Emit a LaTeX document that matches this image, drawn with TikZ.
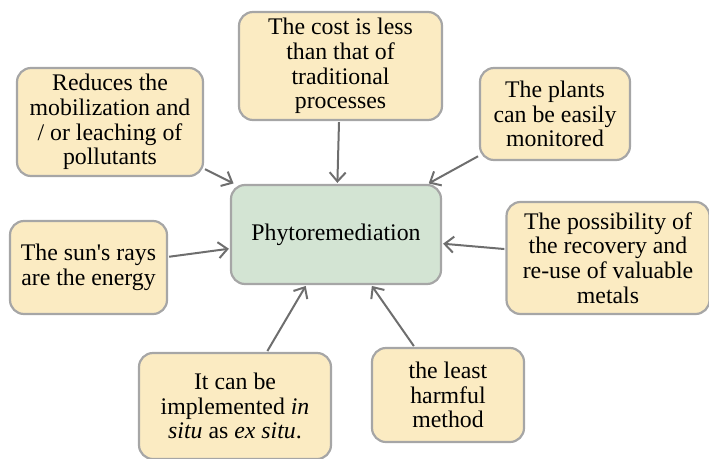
\documentclass[tikz,border=0pt]{standalone}
\usepackage{fontspec}
\setmainfont{Liberation Serif}
\usetikzlibrary{arrows.meta}
\tikzset{>={Straight Barb[length=9pt,width=16pt,line width=2pt]}}
\definecolor{ideafill}{HTML}{FBEBC2}
\definecolor{mainfill}{HTML}{D3E4D3}
\definecolor{boxgray}{HTML}{A6A6A6}
\definecolor{arrowgray}{HTML}{6E6E6E}
\tikzset{
  idea/.style={draw=boxgray, line width=2.2pt, fill=ideafill, rounded corners=14pt,
    align=center, inner sep=0pt, font=\fontsize{23.8}{24.8}\selectfont},
  main/.style={idea, fill=mainfill},
  link/.style={->, draw=arrowgray, line width=2pt, shorten >=1pt, shorten <=1pt},
}

\begin{document}
\begin{tikzpicture}[x=1pt, y=-1pt]

\useasboundingbox (0,0) rectangle (709,458); %% frame

\node[main, minimum width=210pt, minimum height=99pt] (phyto) at (336,234.5)
  {Phytoremediation};

\node[idea, minimum width=203pt, minimum height=108pt] (cost) at (340.5,66)
  {The cost is less\\than that of\\traditional\\processes};
\node[idea, minimum width=186pt, minimum height=108pt] (leach) at (110,122)
  {Reduces the\\mobilization and\\/ or leaching of\\pollutants};
\node[idea, minimum width=150pt, minimum height=92pt] (monitor) at (555,114)
  {The plants\\can be easily\\monitored};
\node[idea, minimum width=203pt, minimum height=112pt] (metals) at (608,258)
  {The possibility of\\the recovery and\\re-use of valuable\\metals};
\node[idea, minimum width=157pt, minimum height=93pt] (sun) at (88.5,267.5)
  {The sun\textquotesingle s rays\\are the energy};
\node[idea, minimum width=192pt, minimum height=106pt] (situ) at (235,406)
  {It can be\\implemented \emph{in}\\\emph{situ} as \emph{ex situ}.};
\node[idea, minimum width=152pt, minimum height=94pt] (harm) at (448,395)
  {the least\\harmful\\method};

\draw[link] (cost) -- (phyto);
\draw[link] (leach) -- (phyto);
\draw[link] (monitor) -- (phyto);
\draw[link] (metals) -- (phyto);
\draw[link] (sun) -- (phyto);
\draw[link] (situ) -- (phyto);
\draw[link] (harm) -- (phyto);

\end{tikzpicture}
\end{document}
